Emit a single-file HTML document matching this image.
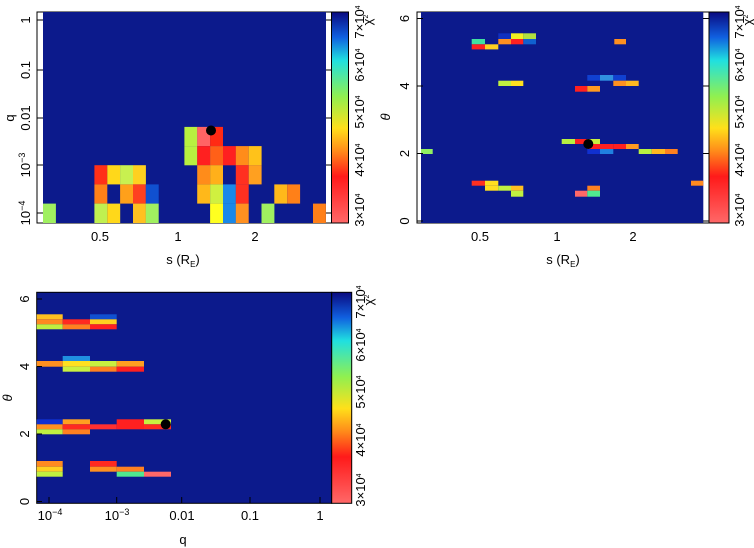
<!DOCTYPE html>
<html><head><meta charset="utf-8"><style>
html,body{margin:0;padding:0;background:#fff;}
svg{display:block;font-family:"Liberation Sans",sans-serif;}
text{font-size:13px;fill:#000;}
</style></head><body>
<svg width="754" height="548" viewBox="0 0 754 548" xmlns="http://www.w3.org/2000/svg">
<defs>
<linearGradient id="cb" x1="0" y1="1" x2="0" y2="0">
<stop offset="0" stop-color="#ff6868"/>
<stop offset="0.22" stop-color="#ff1a1a"/>
<stop offset="0.34" stop-color="#ff8a1a"/>
<stop offset="0.45" stop-color="#ffe01a"/>
<stop offset="0.6" stop-color="#90f050"/>
<stop offset="0.77" stop-color="#20e0e0"/>
<stop offset="0.88" stop-color="#1060e0"/>
<stop offset="1" stop-color="#0a0a80"/>
</linearGradient>
</defs>

<!-- Panel 1 -->
<rect x="37" y="12" width="295" height="211" fill="#fff" stroke="#000" stroke-width="1"/>
<rect x="43" y="12" width="283" height="211" fill="#0c1a8c"/>
<g>
<rect x="184.4" y="126.9" width="12.9" height="19.2" fill="#b8f040"/>
<rect x="197.2" y="126.9" width="12.9" height="19.2" fill="#ff6464"/>
<rect x="210.1" y="126.9" width="12.9" height="19.2" fill="#ff2a14"/>
<rect x="184.4" y="146.1" width="12.9" height="19.2" fill="#b8f040"/>
<rect x="197.2" y="146.1" width="12.9" height="19.2" fill="#ff2020"/>
<rect x="210.1" y="146.1" width="12.9" height="19.2" fill="#ff6018"/>
<rect x="223" y="146.1" width="12.9" height="19.2" fill="#ff2020"/>
<rect x="235.8" y="146.1" width="12.9" height="19.2" fill="#ff8c1a"/>
<rect x="248.7" y="146.1" width="12.9" height="19.2" fill="#ffc21a"/>
<rect x="94.4" y="165.2" width="12.9" height="19.2" fill="#ff3018"/>
<rect x="107.3" y="165.2" width="12.9" height="19.2" fill="#ffd81a"/>
<rect x="120.1" y="165.2" width="12.9" height="19.2" fill="#c8f050"/>
<rect x="133" y="165.2" width="12.9" height="19.2" fill="#ffd020"/>
<rect x="197.2" y="165.2" width="12.9" height="19.2" fill="#ff8c1a"/>
<rect x="210.1" y="165.2" width="12.9" height="19.2" fill="#ffb01a"/>
<rect x="235.8" y="165.2" width="12.9" height="19.2" fill="#ff3020"/>
<rect x="248.7" y="165.2" width="12.9" height="19.2" fill="#ffa020"/>
<rect x="94.4" y="184.4" width="12.9" height="19.2" fill="#ff8018"/>
<rect x="120.1" y="184.4" width="12.9" height="19.2" fill="#ffa01a"/>
<rect x="133" y="184.4" width="12.9" height="19.2" fill="#ff4020"/>
<rect x="145.8" y="184.4" width="12.9" height="19.2" fill="#1050d0"/>
<rect x="197.2" y="184.4" width="12.9" height="19.2" fill="#ffb81a"/>
<rect x="210.1" y="184.4" width="12.9" height="19.2" fill="#d0f040"/>
<rect x="223" y="184.4" width="12.9" height="19.2" fill="#1a88e8"/>
<rect x="235.8" y="184.4" width="12.9" height="19.2" fill="#ff3020"/>
<rect x="274.3" y="184.4" width="12.9" height="19.2" fill="#ffb81a"/>
<rect x="287.2" y="184.4" width="12.9" height="19.2" fill="#ff8018"/>
<rect x="43" y="203.6" width="12.9" height="19.4" fill="#a0f060"/>
<rect x="94.4" y="203.6" width="12.9" height="19.4" fill="#c0f050"/>
<rect x="107.3" y="203.6" width="12.9" height="19.4" fill="#ffd81a"/>
<rect x="133" y="203.6" width="12.9" height="19.4" fill="#ffc020"/>
<rect x="145.8" y="203.6" width="12.9" height="19.4" fill="#a0f060"/>
<rect x="210.1" y="203.6" width="12.9" height="19.4" fill="#ffff20"/>
<rect x="223" y="203.6" width="12.9" height="19.4" fill="#1a88e8"/>
<rect x="235.8" y="203.6" width="12.9" height="19.4" fill="#ff9020"/>
<rect x="261.5" y="203.6" width="12.9" height="19.4" fill="#a0f060"/>
<rect x="313" y="203.6" width="12.9" height="19.4" fill="#ff8018"/>
</g>
<circle cx="211" cy="130.5" r="5" fill="#000"/>
<rect x="331.5" y="12" width="17" height="211" fill="url(#cb)" stroke="#000" stroke-width="1"/>
<g stroke="#000" stroke-width="1">
<line x1="37" y1="20" x2="43" y2="20"/><line x1="37" y1="70" x2="43" y2="70"/><line x1="37" y1="118" x2="43" y2="118"/><line x1="37" y1="165" x2="43" y2="165"/><line x1="37" y1="213" x2="43" y2="213"/>
<line x1="326" y1="20" x2="332" y2="20"/><line x1="326" y1="70" x2="332" y2="70"/><line x1="326" y1="118" x2="332" y2="118"/><line x1="326" y1="165" x2="332" y2="165"/><line x1="326" y1="213" x2="332" y2="213"/>
</g>
<g text-anchor="middle">
<text transform="translate(26,20) rotate(-90)" dy="4">1</text>
<text transform="translate(26,70) rotate(-90)" dy="4">0.1</text>
<text transform="translate(26,118) rotate(-90)" dy="4">0.01</text>
<text transform="translate(26,165) rotate(-90)" dy="4">10<tspan dy="-5" font-size="9">−3</tspan></text>
<text transform="translate(26,213) rotate(-90)" dy="4">10<tspan dy="-5" font-size="9">−4</tspan></text>
<text transform="translate(10,118) rotate(-90)" dy="4">q</text>
<text x="100" y="241">0.5</text><text x="178" y="241">1</text><text x="255" y="241">2</text>
<text x="183" y="264">s (R<tspan dy="3" font-size="8">E</tspan><tspan dy="-3">)</tspan></text>
<text transform="translate(360,210) rotate(-90)" dy="4" font-size="10">3×10<tspan dy="-4" font-size="7">4</tspan></text>
<text transform="translate(360,160) rotate(-90)" dy="4" font-size="10">4×10<tspan dy="-4" font-size="7">4</tspan></text>
<text transform="translate(360,112) rotate(-90)" dy="4" font-size="10">5×10<tspan dy="-4" font-size="7">4</tspan></text>
<text transform="translate(360,65) rotate(-90)" dy="4" font-size="10">6×10<tspan dy="-4" font-size="7">4</tspan></text>
<text transform="translate(360,22) rotate(-90)" dy="4" font-size="10">7×10<tspan dy="-4" font-size="7">4</tspan></text>
<text transform="translate(370,20) rotate(-90)" dy="2" font-size="10">χ<tspan dy="-4" font-size="7">2</tspan></text>
</g>

<!-- Panel 2 -->
<rect x="417" y="12" width="292" height="211" fill="#fff" stroke="#000" stroke-width="1"/>
<rect x="421" y="12" width="282.3" height="211" fill="#0c1a8c"/>
<g>
<rect x="471.7" y="39" width="13.3" height="5.3" fill="#40e0a0"/>
<rect x="471.7" y="44.3" width="13.3" height="5.1" fill="#ff2020"/>
<rect x="485" y="44.3" width="13.3" height="5.1" fill="#ffd020"/>
<rect x="498.3" y="33.3" width="12.7" height="5.7" fill="#1030c0"/>
<rect x="498.3" y="39" width="12.7" height="5.3" fill="#ff9020"/>
<rect x="511" y="33.3" width="12.3" height="5.7" fill="#f0f020"/>
<rect x="511" y="39" width="12.3" height="5.3" fill="#ff2020"/>
<rect x="523.3" y="33.3" width="12.7" height="5.7" fill="#b0e040"/>
<rect x="523.3" y="39" width="12.7" height="5.3" fill="#1060d0"/>
<rect x="614.3" y="39" width="11.7" height="5.3" fill="#ff9020"/>
<rect x="587.3" y="75" width="12.7" height="5.7" fill="#1040d0"/>
<rect x="600" y="75" width="13.3" height="5.7" fill="#3090e0"/>
<rect x="613.3" y="75" width="12.7" height="5.7" fill="#1040d0"/>
<rect x="613.3" y="80.7" width="12.7" height="5.3" fill="#ff9020"/>
<rect x="626" y="80.7" width="12.7" height="5.3" fill="#ffb820"/>
<rect x="498.3" y="80.7" width="12.7" height="5.3" fill="#c0f040"/>
<rect x="511" y="80.7" width="12.3" height="5.3" fill="#ffe020"/>
<rect x="575" y="86" width="12.3" height="5.7" fill="#ff2020"/>
<rect x="587.3" y="86" width="12.7" height="5.7" fill="#ff9a20"/>
<rect x="561.7" y="139" width="13.3" height="5" fill="#b8f040"/>
<rect x="575" y="139" width="12.3" height="5" fill="#ff2020"/>
<rect x="587.3" y="139" width="12.7" height="5" fill="#c8f040"/>
<rect x="587.3" y="144" width="12.7" height="5" fill="#ff2020"/>
<rect x="600" y="144" width="13.3" height="5" fill="#ff2020"/>
<rect x="613.3" y="144" width="12.7" height="5" fill="#ff2020"/>
<rect x="626" y="144" width="12.7" height="5" fill="#ff9a20"/>
<rect x="587.3" y="149" width="12.7" height="5" fill="#1030d0"/>
<rect x="600" y="149" width="13.3" height="5" fill="#2080e0"/>
<rect x="638.7" y="149" width="13" height="5" fill="#b8f040"/>
<rect x="651.7" y="149" width="13.3" height="5" fill="#ffb820"/>
<rect x="665" y="149" width="12.7" height="5" fill="#ff8020"/>
<rect x="421" y="149" width="11.7" height="5" fill="#90f060"/>
<rect x="471.7" y="180.7" width="13.3" height="5" fill="#ff3020"/>
<rect x="485" y="180.7" width="13.3" height="5" fill="#ffe020"/>
<rect x="485" y="185.7" width="13.3" height="5" fill="#ffe020"/>
<rect x="498.3" y="185.7" width="12.7" height="5" fill="#c0f040"/>
<rect x="511" y="185.7" width="12.3" height="5" fill="#ffc020"/>
<rect x="511" y="190.7" width="12.3" height="6" fill="#c0f040"/>
<rect x="691" y="180.7" width="12.3" height="5" fill="#ff8a20"/>
<rect x="575" y="190.7" width="12.3" height="6" fill="#ff6868"/>
<rect x="587.3" y="185.7" width="12.7" height="5" fill="#ff8020"/>
<rect x="587.3" y="190.7" width="12.7" height="6" fill="#50e890"/>
</g>
<circle cx="588.3" cy="144" r="5" fill="#000"/>
<rect x="709" y="12" width="20" height="211" fill="url(#cb)" stroke="#000" stroke-width="1"/>
<g stroke="#000" stroke-width="1">
<line x1="417" y1="18.5" x2="423" y2="18.5"/><line x1="417" y1="86" x2="423" y2="86"/><line x1="417" y1="153.5" x2="423" y2="153.5"/><line x1="417" y1="221" x2="423" y2="221"/>
<line x1="703" y1="18.5" x2="709" y2="18.5"/><line x1="703" y1="86" x2="709" y2="86"/><line x1="703" y1="153.5" x2="709" y2="153.5"/><line x1="703" y1="221" x2="709" y2="221"/>
</g>
<g text-anchor="middle">
<text transform="translate(405,18.5) rotate(-90)" dy="4">6</text>
<text transform="translate(405,86) rotate(-90)" dy="4">4</text>
<text transform="translate(405,153.5) rotate(-90)" dy="4">2</text>
<text transform="translate(405,221) rotate(-90)" dy="4">0</text>
<text transform="translate(386,117) rotate(-90)" dy="4" font-style="italic">θ</text>
<text x="480" y="241">0.5</text><text x="557" y="241">1</text><text x="633" y="241">2</text>
<text x="563" y="264">s (R<tspan dy="3" font-size="8">E</tspan><tspan dy="-3">)</tspan></text>
<text transform="translate(740,210) rotate(-90)" dy="4" font-size="10">3×10<tspan dy="-4" font-size="7">4</tspan></text>
<text transform="translate(740,160) rotate(-90)" dy="4" font-size="10">4×10<tspan dy="-4" font-size="7">4</tspan></text>
<text transform="translate(740,112) rotate(-90)" dy="4" font-size="10">5×10<tspan dy="-4" font-size="7">4</tspan></text>
<text transform="translate(740,65) rotate(-90)" dy="4" font-size="10">6×10<tspan dy="-4" font-size="7">4</tspan></text>
<text transform="translate(740,22) rotate(-90)" dy="4" font-size="10">7×10<tspan dy="-4" font-size="7">4</tspan></text>
<text transform="translate(750,20) rotate(-90)" dy="2" font-size="10">χ<tspan dy="-4" font-size="7">2</tspan></text>
</g>

<!-- Panel 3 -->
<rect x="36.7" y="292.3" width="295" height="211" fill="#0c1a8c" stroke="#000" stroke-width="1"/>
<g>
<rect x="36.7" y="314.3" width="26" height="5" fill="#ffc020"/>
<rect x="36.7" y="319.3" width="26" height="5" fill="#ff8a20"/>
<rect x="36.7" y="324.3" width="26" height="5" fill="#c0f040"/>
<rect x="36.7" y="361" width="26" height="5.7" fill="#ff9020"/>
<rect x="36.7" y="419.3" width="26" height="5" fill="#1030d0"/>
<rect x="36.7" y="424.3" width="26" height="5" fill="#ff9020"/>
<rect x="36.7" y="429.3" width="26" height="5" fill="#c0f040"/>
<rect x="36.7" y="461" width="26" height="5.7" fill="#ff8a20"/>
<rect x="36.7" y="466.7" width="26" height="5" fill="#ffd020"/>
<rect x="36.7" y="471.7" width="26" height="5" fill="#c0f040"/>
<rect x="62.7" y="319.3" width="27.3" height="5" fill="#ff2a20"/>
<rect x="62.7" y="324.3" width="27.3" height="5" fill="#ff8020"/>
<rect x="62.7" y="356" width="27.3" height="5" fill="#2090e0"/>
<rect x="62.7" y="361" width="27.3" height="5.7" fill="#ffe020"/>
<rect x="62.7" y="366.7" width="27.3" height="5" fill="#c8f040"/>
<rect x="62.7" y="419.3" width="27.3" height="5" fill="#ffa020"/>
<rect x="62.7" y="424.3" width="27.3" height="5" fill="#ff2a20"/>
<rect x="62.7" y="429.3" width="27.3" height="5" fill="#ff8020"/>
<rect x="90" y="314.3" width="26.7" height="5" fill="#1050d0"/>
<rect x="90" y="319.3" width="26.7" height="5" fill="#ffd020"/>
<rect x="90" y="324.3" width="26.7" height="5" fill="#ff2020"/>
<rect x="90" y="361" width="26.7" height="5.7" fill="#c8f040"/>
<rect x="90" y="366.7" width="26.7" height="5" fill="#ff8020"/>
<rect x="90" y="424.3" width="26.7" height="5" fill="#ff3030"/>
<rect x="90" y="461" width="26.7" height="5.7" fill="#ff2a20"/>
<rect x="90" y="466.7" width="26.7" height="5" fill="#ff9020"/>
<rect x="116.7" y="361" width="27.3" height="5.7" fill="#ffa020"/>
<rect x="116.7" y="366.7" width="27.3" height="5" fill="#ff2020"/>
<rect x="116.7" y="419.3" width="27.3" height="10" fill="#ff2020"/>
<rect x="116.7" y="466.7" width="27.3" height="5" fill="#ff8020"/>
<rect x="116.7" y="471.7" width="27.3" height="5" fill="#50e890"/>
<rect x="144" y="419.3" width="27" height="5" fill="#c8f040"/>
<rect x="144" y="424.3" width="27" height="5" fill="#ff2a20"/>
<rect x="144" y="471.7" width="27" height="5" fill="#ff6868"/>
</g>
<circle cx="165.7" cy="424.3" r="5" fill="#000"/>
<rect x="331.7" y="292.3" width="20" height="211" fill="url(#cb)" stroke="#000" stroke-width="1"/>
<g stroke="#000" stroke-width="1">
<line x1="36.7" y1="299" x2="42" y2="299"/><line x1="36.7" y1="366.5" x2="42" y2="366.5"/><line x1="36.7" y1="434" x2="42" y2="434"/><line x1="36.7" y1="501.5" x2="42" y2="501.5"/>
<line x1="49" y1="503" x2="49" y2="497"/><line x1="116.7" y1="503" x2="116.7" y2="497"/><line x1="181.7" y1="503" x2="181.7" y2="497"/><line x1="250" y1="503" x2="250" y2="497"/><line x1="320" y1="503" x2="320" y2="497"/>
</g>
<g text-anchor="middle">
<text transform="translate(25,299) rotate(-90)" dy="4">6</text>
<text transform="translate(25,366.5) rotate(-90)" dy="4">4</text>
<text transform="translate(25,434) rotate(-90)" dy="4">2</text>
<text transform="translate(25,501.5) rotate(-90)" dy="4">0</text>
<text transform="translate(8,398) rotate(-90)" dy="4" font-style="italic">θ</text>
<text x="50" y="520">10<tspan dy="-5" font-size="9">−4</tspan></text>
<text x="117" y="520">10<tspan dy="-5" font-size="9">−3</tspan></text>
<text x="182" y="520">0.01</text>
<text x="250" y="520">0.1</text>
<text x="320" y="520">1</text>
<text x="183" y="544">q</text>
<text transform="translate(361,490) rotate(-90)" dy="4" font-size="10">3×10<tspan dy="-4" font-size="7">4</tspan></text>
<text transform="translate(361,440) rotate(-90)" dy="4" font-size="10">4×10<tspan dy="-4" font-size="7">4</tspan></text>
<text transform="translate(361,392) rotate(-90)" dy="4" font-size="10">5×10<tspan dy="-4" font-size="7">4</tspan></text>
<text transform="translate(361,345) rotate(-90)" dy="4" font-size="10">6×10<tspan dy="-4" font-size="7">4</tspan></text>
<text transform="translate(361,302) rotate(-90)" dy="4" font-size="10">7×10<tspan dy="-4" font-size="7">4</tspan></text>
<text transform="translate(371,300) rotate(-90)" dy="2" font-size="10">χ<tspan dy="-4" font-size="7">2</tspan></text>
</g>
</svg>
</body></html>
